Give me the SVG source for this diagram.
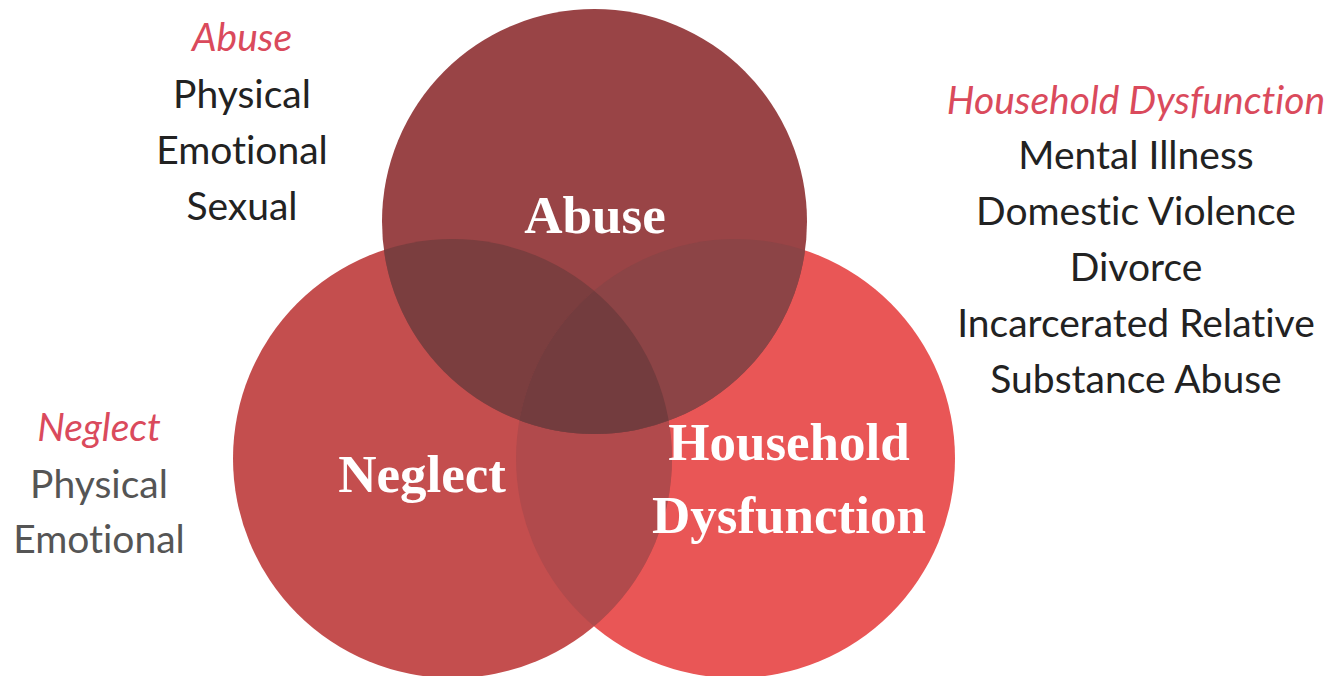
<svg xmlns="http://www.w3.org/2000/svg" width="1344" height="676" viewBox="0 0 1344 676">
<style>
.head{font-family:"Liberation Serif","Times New Roman",serif;font-weight:bold;font-size:53px;fill:#ffffff;text-anchor:middle}
.lbl{font-family:Lato,"Liberation Sans",sans-serif;font-size:39px;text-anchor:middle;font-variant-ligatures:none;font-feature-settings:"liga" 0,"clig" 0,"dlig" 0}
.it{font-style:italic;fill:#da4a5c}
.dk{fill:#222222}
.gr{fill:#555555}
</style>
<defs>
<clipPath id="cA"><circle cx="594.5" cy="221.5" r="212.5"/></clipPath>
<clipPath id="cN"><circle cx="452.5" cy="458.5" r="219.5"/></clipPath>
<clipPath id="cH"><circle cx="735.5" cy="458.5" r="219.5"/></clipPath>
</defs>
<rect width="1344" height="676" fill="#ffffff"/>
<g id="household">
<circle cx="735.5" cy="458.5" r="219.5" fill="#e95656"/>
</g>
<g id="neglect">
<circle cx="452.5" cy="458.5" r="219.5" fill="#c44e4e"/>
</g>
<g id="abuse">
<circle cx="594.5" cy="221.5" r="212.5" fill="#994446"/>
</g>
<g id="overlaps">
<circle cx="452.5" cy="458.5" r="219.5" fill="#b14a4c" clip-path="url(#cH)"/>
<circle cx="594.5" cy="221.5" r="212.5" fill="#7b3e3f" clip-path="url(#cN)"/>
<circle cx="594.5" cy="221.5" r="212.5" fill="#8c4446" clip-path="url(#cH)"/>
<g clip-path="url(#cH)">
<circle cx="594.5" cy="221.5" r="212.5" fill="#733c3e" clip-path="url(#cN)"/>
</g>
</g>
<g id="circle-labels">
<text class="head" x="595" y="233">Abuse</text>
<text class="head" x="422" y="492">Neglect</text>
<text class="head" x="789" y="460">Household</text>
<text class="head" x="789" y="533">Dysfunction</text>
</g>
<g id="abuse-list">
<text class="lbl it" x="242" y="51">Abuse</text>
<text class="lbl dk" x="242" y="108">Physical</text>
<text class="lbl dk" x="242" y="164">Emotional</text>
<text class="lbl dk" x="242" y="220">Sexual</text>
</g>
<g id="household-list">
<text class="lbl it" x="1136" y="114">Household Dysfunction</text>
<text class="lbl dk" x="1136" y="169">Mental Illness</text>
<text class="lbl dk" x="1136" y="225">Domestic Violence</text>
<text class="lbl dk" x="1136" y="281">Divorce</text>
<text class="lbl dk" x="1136" y="337">Incarcerated Relative</text>
<text class="lbl dk" x="1136" y="393">Substance Abuse</text>
</g>
<g id="neglect-list">
<text class="lbl it" x="99" y="441">Neglect</text>
<text class="lbl gr" x="99" y="498">Physical</text>
<text class="lbl gr" x="99" y="553">Emotional</text>
</g>
</svg>
